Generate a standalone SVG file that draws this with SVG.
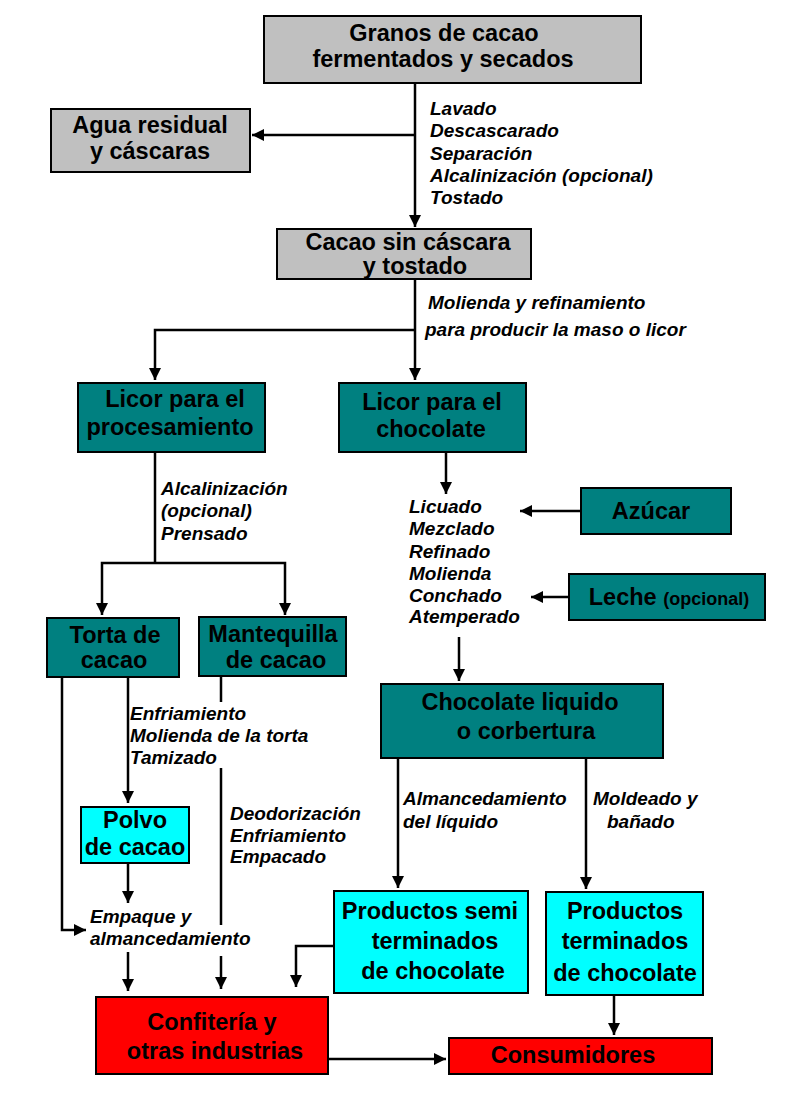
<svg xmlns="http://www.w3.org/2000/svg" width="785" height="1099" viewBox="0 0 785 1099">
<style>
.box{stroke:#000;stroke-width:2}
.gray{fill:#C0C0C0}
.teal{fill:#008080}
.cyan{fill:#00FFFF}
.red{fill:#FF0000}
.t{font-family:"Liberation Sans",Arial,sans-serif;font-weight:bold;font-size:23.5px;fill:#000;text-anchor:middle}
.l{font-family:"Liberation Sans",Arial,sans-serif;font-weight:bold;font-style:italic;font-size:19px;fill:#000}
.c{fill:none;stroke:#000;stroke-width:2.5}
</style>
<defs>
<marker id="ah" markerUnits="userSpaceOnUse" markerWidth="12" markerHeight="12" refX="12" refY="6" orient="auto">
<path d="M0,0 L12,6 L0,12 z" fill="#000"/>
</marker>
</defs>
<rect width="785" height="1099" fill="#fff"/>

<g id="connectors">
<path class="c" d="M415,83 V227" marker-end="url(#ah)"/>
<path class="c" d="M415,135 H252" marker-end="url(#ah)"/>
<path class="c" d="M415,279 V380" marker-end="url(#ah)"/>
<path class="c" d="M415,330 H155 V380" marker-end="url(#ah)"/>
<path class="c" d="M155,452 V563"/>
<path class="c" d="M155,563 H102 V615" marker-end="url(#ah)"/>
<path class="c" d="M155,563 H285 V615" marker-end="url(#ah)"/>
<path class="c" d="M446,452 V494" marker-end="url(#ah)"/>
<path class="c" d="M580,511 H520" marker-end="url(#ah)"/>
<path class="c" d="M568,597 H531" marker-end="url(#ah)"/>
<path class="c" d="M459,637 V681" marker-end="url(#ah)"/>
<path class="c" d="M62,677 V930 H86" marker-end="url(#ah)"/>
<path class="c" d="M128,677 V803" marker-end="url(#ah)"/>
<path class="c" d="M128,863 V903" marker-end="url(#ah)"/>
<path class="c" d="M128,952 V991" marker-end="url(#ah)"/>
<path class="c" d="M221,676 V702"/>
<path class="c" d="M221,768 V925"/>
<path class="c" d="M221,956 V989" marker-end="url(#ah)"/>
<path class="c" d="M398,758 V888" marker-end="url(#ah)"/>
<path class="c" d="M586,758 V889" marker-end="url(#ah)"/>
<path class="c" d="M333,946 H296 V987" marker-end="url(#ah)"/>
<path class="c" d="M328,1059 H446" marker-end="url(#ah)"/>
<path class="c" d="M614,995 V1035" marker-end="url(#ah)"/>
</g>

<g id="labels">
<text class="l" x="430" y="115">Lavado</text>
<text class="l" x="430" y="137">Descascarado</text>
<text class="l" x="430" y="160">Separación</text>
<text class="l" x="430" y="182">Alcalinización (opcional)</text>
<text class="l" x="430" y="204">Tostado</text>
<text class="l" x="428" y="309">Molienda y refinamiento</text>
<text class="l" x="425" y="336">para producir la maso o licor</text>
<text class="l" x="161" y="495">Alcalinización</text>
<text class="l" x="161" y="517">(opcional)</text>
<text class="l" x="161" y="540">Prensado</text>
<text class="l" x="409" y="513">Licuado</text>
<text class="l" x="409" y="535">Mezclado</text>
<text class="l" x="409" y="558">Refinado</text>
<text class="l" x="409" y="580">Molienda</text>
<text class="l" x="409" y="602">Conchado</text>
<text class="l" x="409" y="623">Atemperado</text>
<text class="l" x="130" y="720">Enfriamiento</text>
<text class="l" x="130" y="742">Molienda de la torta</text>
<text class="l" x="130" y="764">Tamizado</text>
<text class="l" x="230" y="820">Deodorización</text>
<text class="l" x="230" y="842">Enfriamiento</text>
<text class="l" x="230" y="863">Empacado</text>
<text class="l" x="403" y="805">Almancedamiento</text>
<text class="l" x="403" y="828">del líquido</text>
<text class="l" x="593" y="805">Moldeado y</text>
<text class="l" x="607" y="828">bañado</text>
<text class="l" x="90" y="923">Empaque y</text>
<text class="l" x="90" y="945">almancedamiento</text>
</g>

<g id="granos">
<rect class="box gray" x="264" y="16" width="377" height="67"/>
<text class="t" x="444" y="41">Granos de cacao</text>
<text class="t" x="443" y="67">fermentados y secados</text>
</g>
<g id="agua">
<rect class="box gray" x="51" y="109" width="199" height="63"/>
<text class="t" x="150" y="133">Agua residual</text>
<text class="t" x="150" y="159">y cáscaras</text>
</g>
<g id="cacao">
<rect class="box gray" x="277" y="229" width="254" height="50"/>
<text class="t" x="408" y="250" font-size="22">Cacao sin cáscara</text>
<text class="t" x="415" y="274" font-size="22">y tostado</text>
</g>
<g id="licor-proc">
<rect class="box teal" x="78" y="383" width="187" height="69"/>
<text class="t" x="175" y="407">Licor para el</text>
<text class="t" x="170" y="435">procesamiento</text>
</g>
<g id="licor-choc">
<rect class="box teal" x="339" y="383" width="187" height="69"/>
<text class="t" x="432" y="410">Licor para el</text>
<text class="t" x="431" y="437">chocolate</text>
</g>
<g id="azucar">
<rect class="box teal" x="581" y="488" width="150" height="46"/>
<text class="t" x="651" y="519">Azúcar</text>
</g>
<g id="leche">
<rect class="box teal" x="569" y="574" width="196" height="46"/>
<text class="t" x="669" y="605"><tspan>Leche </tspan><tspan font-size="18">(opcional)</tspan></text>
</g>
<g id="torta">
<rect class="box teal" x="47" y="618" width="132" height="59"/>
<text class="t" x="115" y="643">Torta de</text>
<text class="t" x="114" y="668">cacao</text>
</g>
<g id="mantequilla">
<rect class="box teal" x="199" y="617" width="147" height="59"/>
<text class="t" x="273" y="642">Mantequilla</text>
<text class="t" x="276" y="668">de cacao</text>
</g>
<g id="chocolate-liquido">
<rect class="box teal" x="381" y="684" width="282" height="74"/>
<text class="t" x="520" y="710">Chocolate liquido</text>
<text class="t" x="526" y="739">o corbertura</text>
</g>
<g id="polvo">
<rect class="box cyan" x="81" y="807" width="108" height="56"/>
<text class="t" x="135" y="828">Polvo</text>
<text class="t" x="135" y="855">de cacao</text>
</g>
<g id="semi">
<rect class="box cyan" x="334" y="891" width="194" height="102"/>
<text class="t" x="430" y="919">Productos semi</text>
<text class="t" x="435" y="949">terminados</text>
<text class="t" x="433" y="979">de chocolate</text>
</g>
<g id="terminados">
<rect class="box cyan" x="546" y="892" width="157" height="103"/>
<text class="t" x="625" y="919">Productos</text>
<text class="t" x="625" y="949">terminados</text>
<text class="t" x="625" y="981">de chocolate</text>
</g>
<g id="confiteria">
<rect class="box red" x="96" y="997" width="232" height="77"/>
<text class="t" x="212" y="1030">Confitería y</text>
<text class="t" x="215" y="1059">otras industrias</text>
</g>
<g id="consumidores">
<rect class="box red" x="449" y="1038" width="263" height="36"/>
<text class="t" x="573" y="1063">Consumidores</text>
</g>
</svg>
